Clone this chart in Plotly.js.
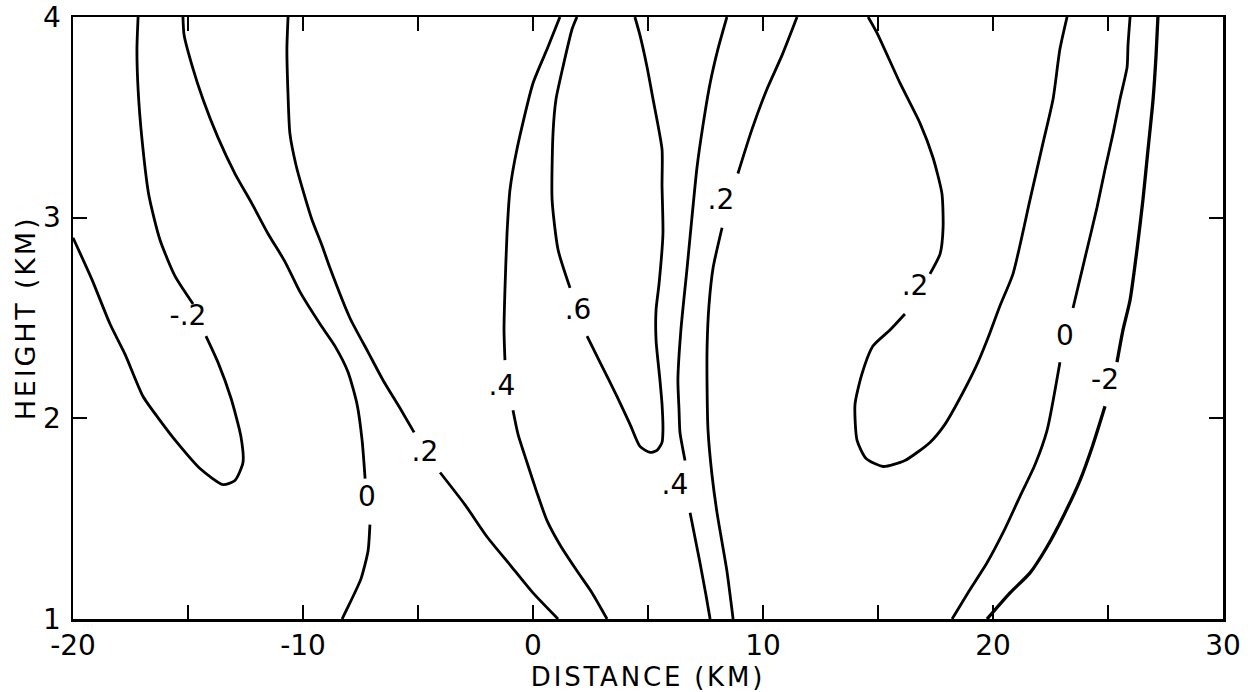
<!DOCTYPE html>
<html>
<head>
<meta charset="utf-8">
<script src="https://cdn.plot.ly/plotly-3.0.1.min.js"></script>
<style>
  html, body { margin: 0; padding: 0; background: #fff; }
  #chart { width: 1257px; height: 692px; }
  .xtitle, .ytitle { letter-spacing: 2.8px; }
</style>
</head>
<body>
<div id="chart"></div>
<script>
// Contour lines (x = distance km, y = height km); null = gap for a label
const cNeg02L_x = [-20,-19.17,-18.39,-17.74,-16.96,-16.22,-15.48,-14.48,-13.48,-12.96,-12.61,-12.70,-13.13,-13.70,-14.22,null,-14.78,-15.57,-16.22,-16.70,-17.00,-17.17,-17.22,-17.17];
const cNeg02L_y = [2.90,2.69,2.47,2.32,2.11,1.99,1.88,1.75,1.67,1.69,1.78,1.91,2.10,2.28,2.41,null,2.57,2.71,2.89,3.11,3.39,3.64,3.84,4.0];

const c0L_x = [-15.22,-15.17,-14.83,-14.35,-13.70,-12.96,-12.22,-11.52,-10.78,-10.13,-9.26,-8.61,-8.04,-7.65,-7.43,-7.30,null,-7.09,-7.17,-7.48,-7.96,-8.30];
const c0L_y = [4.0,3.91,3.76,3.59,3.40,3.22,3.07,2.92,2.78,2.63,2.47,2.36,2.23,2.07,1.89,1.70,null,1.47,1.34,1.20,1.08,1.0];

const c02L_x = [-10.65,-10.70,-10.65,-10.57,-10.30,-9.96,-9.61,-9.17,-8.83,-7.96,-7.17,-6.52,-5.78,-5.17,null,-4.04,-2.96,-2.0,-1.0,0,1.09];
const c02L_y = [4.0,3.84,3.61,3.42,3.26,3.12,2.99,2.86,2.75,2.50,2.33,2.19,2.05,1.93,null,1.73,1.57,1.41,1.27,1.13,1.0];

const c04L_x = [1.17,0.65,0,-0.70,-1.0,-1.13,-1.22,-1.26,-1.22,null,-0.87,-0.65,-0.26,0.17,0.61,1.17,1.91,2.57,3.22];
const c04L_y = [4.0,3.85,3.67,3.34,3.14,2.92,2.64,2.44,2.29,null,2.04,1.92,1.78,1.63,1.49,1.37,1.24,1.13,1.0];

const c06_x = [1.91,1.70,1.30,1.0,0.87,0.83,1.09,1.61,null,2.35,2.91,3.65,4.22,4.65,5.09,5.39,5.61,5.65,5.61,5.52,5.35,5.35,5.48,5.65,5.61,5.61,5.22,4.96,4.65,4.43];
const c06_y = [4.0,3.94,3.75,3.59,3.42,3.09,2.84,2.65,null,2.41,2.28,2.11,1.97,1.86,1.83,1.84,1.88,1.94,2.07,2.19,2.39,2.54,2.67,2.92,3.16,3.34,3.59,3.75,3.91,4.0];

const c04R_x = [8.43,8.04,7.70,7.39,7.13,6.91,6.70,6.43,6.30,6.35,6.39,6.61,null,6.83,7.26,7.52,7.70];
const c04R_y = [4.0,3.84,3.67,3.46,3.25,3.00,2.75,2.44,2.19,2.04,1.93,1.79,null,1.53,1.28,1.12,1.0];

const c02M_x = [11.48,10.83,10.17,9.52,8.91,null,8.22,7.83,7.65,7.57,7.57,7.61,7.78,8.0,8.43,8.70];
const c02M_y = [4.0,3.81,3.64,3.44,3.22,null,2.95,2.75,2.56,2.36,2.14,1.94,1.72,1.53,1.24,1.0];

const c02R_x = [14.57,14.96,15.96,16.83,17.39,17.78,17.83,17.70,17.26,null,16.17,15.52,14.78,14.30,14.0,14.09,14.48,15.22,16.17,17.26,17.91,18.70,19.35,19.78,20.30,20.87,21.61,22.17,22.61,22.91,23.22];
const c02R_y = [4.0,3.92,3.67,3.47,3.30,3.12,2.95,2.82,2.72,null,2.52,2.44,2.36,2.22,2.07,1.89,1.80,1.76,1.79,1.88,1.97,2.13,2.28,2.40,2.56,2.72,3.09,3.37,3.59,3.84,4.0];

const c0R_x = [25.96,25.87,25.83,25.52,25.22,24.87,24.52,24.0,23.48,null,22.91,22.35,21.83,21.17,20.48,19.74,18.91,18.22];
const c0R_y = [4.0,3.86,3.75,3.59,3.42,3.24,3.05,2.80,2.55,null,2.28,1.94,1.77,1.61,1.44,1.28,1.13,1.0];

const cNeg2R_x = [27.17,27.09,26.96,26.74,26.52,26.26,25.96,25.65,25.39,null,24.87,24.35,23.78,23.09,22.35,21.61,20.74,19.74];
const cNeg2R_y = [4.0,3.81,3.59,3.34,3.09,2.84,2.59,2.44,2.28,null,2.06,1.87,1.69,1.52,1.36,1.23,1.13,1.0];

// Contour labels
const labelText = ['-.2', '0', '.2', '.4', '.6', '.4', '.2', '.2', '0', '-2'];
const labelX = [-15.0, -7.22, -4.70, -1.35, 1.96, 6.17, 8.17, 16.61, 23.13, 24.87];
const labelY = [2.50, 1.60, 1.82, 2.15, 2.53, 1.66, 3.08, 2.65, 2.40, 2.18];

// Axis ticks
const xTickVals = [-20,-15,-10,-5,0,5,10,15,20,25,30];
const xTickText = ['-20','','-10','','0','','10','','20','','30'];
const yTickVals = [1,2,3,4];
const yTickText = ['1','2','3','4'];

const FONT = 'DejaVu Sans, Liberation Sans, sans-serif';

const lines = [
  [cNeg02L_x, cNeg02L_y, 2.8],
  [c0L_x, c0L_y, 2.8],
  [c02L_x, c02L_y, 2.8],
  [c04L_x, c04L_y, 2.8],
  [c06_x, c06_y, 2.8],
  [c04R_x, c04R_y, 2.8],
  [c02M_x, c02M_y, 2.8],
  [c02R_x, c02R_y, 2.8],
  [c0R_x, c0R_y, 2.8],
  [cNeg2R_x, cNeg2R_y, 3.3]
];

const traces = lines.map(([x, y, w]) => ({
  type: 'scatter', mode: 'lines', x: x, y: y,
  connectgaps: false,
  line: {color: '#000', width: w, shape: 'spline', smoothing: 0.6},
  hoverinfo: 'skip', cliponaxis: true
}));

traces.push({
  type: 'scatter', mode: 'text', x: labelX, y: labelY, text: labelText,
  textposition: 'middle center',
  textfont: {family: FONT, size: 28, color: '#000'},
  hoverinfo: 'skip', cliponaxis: false
});

const axisCommon = {
  showline: true, linecolor: '#000', linewidth: 2.5, mirror: 'ticks',
  ticks: 'inside', ticklen: 14, tickwidth: 2, tickcolor: '#000',
  showgrid: false, zeroline: false, tickmode: 'array',
  ticklabeloverflow: 'allow',
  tickfont: {family: FONT, size: 28, color: '#000'}
};

const layout = {
  width: 1257, height: 692,
  margin: {l: 73, r: 34, t: 17, b: 73, pad: 0},
  paper_bgcolor: '#fff', plot_bgcolor: '#fff',
  showlegend: false, hovermode: false,
  xaxis: Object.assign({}, axisCommon, {
    range: [-20, 30], tickvals: xTickVals, ticktext: xTickText,
    ticklabelstandoff: 0,
    title: {text: 'DISTANCE (KM)', font: {family: FONT, size: 26, color: '#000'}, standoff: 5}
  }),
  yaxis: Object.assign({}, axisCommon, {
    range: [1, 4], tickvals: yTickVals, ticktext: yTickText,
    ticklabelstandoff: 4,
    title: {text: 'HEIGHT (KM)', font: {family: FONT, size: 27, color: '#000'}, standoff: 0}
  })
};

Plotly.newPlot('chart', traces, layout, {displayModeBar: false, staticPlot: true});
</script>
</body>
</html>
